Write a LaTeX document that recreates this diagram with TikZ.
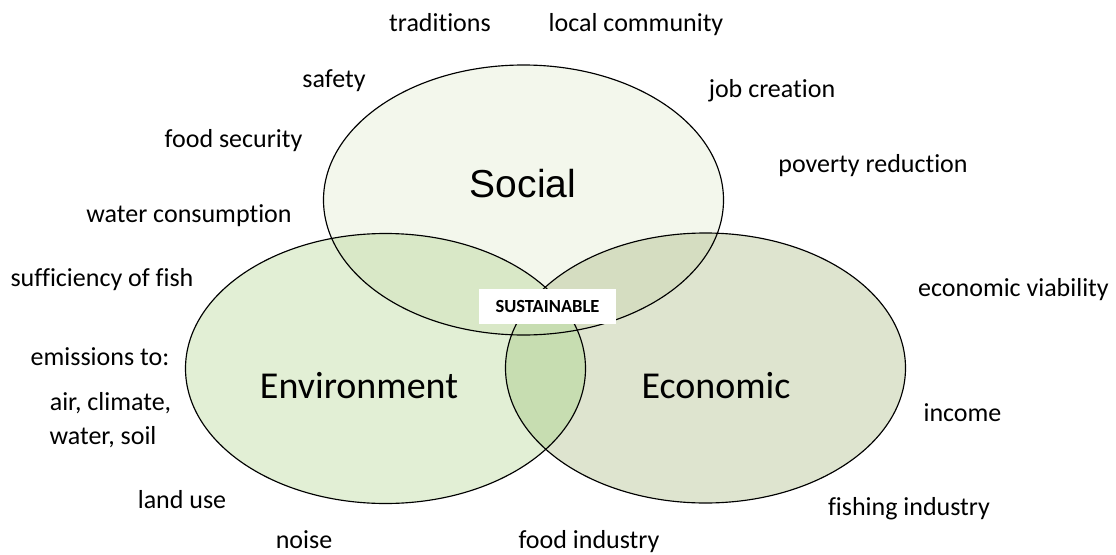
\documentclass[tikz,border=0pt]{standalone}
\usepackage{fontspec}
\setmainfont{Carlito}[Ligatures=NoCommon]
\newfontfamily\arialfont{Liberation Sans}
\definecolor{socc}{HTML}{F3F7EC}
\definecolor{envc}{HTML}{E2EFD5}
\definecolor{ecoc}{HTML}{DEE4CF}
\definecolor{sec}{HTML}{D9E8C7}
\definecolor{scc}{HTML}{D5DDC1}
\definecolor{eec}{HTML}{C7DDB1}
\begin{document}
\begin{tikzpicture}[x=1pt,y=-1pt,
  lbl/.style={anchor=base, font=\fontsize{26}{30}\selectfont, inner sep=0pt},
  big/.style={anchor=base, font=\fontsize{38}{44}\selectfont, inner sep=0pt},
  ring/.style={draw=black, line width=1.15pt}]
\useasboundingbox[fill=white] (0,0) rectangle (1116,554);
% region fills
\fill[socc] (523.5,200) ellipse [x radius=200pt, y radius=135pt];
\fill[envc] (385.5,368.5) ellipse [x radius=200pt, y radius=135pt];
\fill[ecoc] (705.5,368) ellipse [x radius=200pt, y radius=135pt];
\begin{scope}
  \clip (523.5,200) ellipse [x radius=200pt, y radius=135pt];
  \fill[sec] (385.5,368.5) ellipse [x radius=200pt, y radius=135pt];
  \fill[scc] (705.5,368) ellipse [x radius=200pt, y radius=135pt];
\end{scope}
\begin{scope}
  \clip (385.5,368.5) ellipse [x radius=200pt, y radius=135pt];
  \fill[eec] (705.5,368) ellipse [x radius=200pt, y radius=135pt];
\end{scope}
% outlines
\draw[ring] (523.5,200) ellipse [x radius=200pt, y radius=135pt];
\draw[ring] (385.5,368.5) ellipse [x radius=200pt, y radius=135pt];
\draw[ring] (705.5,368) ellipse [x radius=200pt, y radius=135pt];
% circle titles
\node[big, font=\arialfont\fontsize{39}{44}\selectfont] (social) at (523,197) {Social};
\node[big] (environment) at (359,398) {Environment};
\node[big] (economic) at (716,398) {Economic};
% centre box
\node[fill=white, minimum width=137pt, minimum height=35pt, inner sep=0pt,
      font=\bfseries\fontsize{18.5}{22}\selectfont] (sustainable) at (547.5,306.5) {SUSTAINABLE};
% surrounding labels
\node[lbl] (traditions) at (440,31) {traditions};
\node[lbl] (localcommunity) at (636,31) {local community};
\node[lbl] (safety) at (334,87) {safety};
\node[lbl] (jobcreation) at (772,97) {job creation};
\node[lbl] (foodsecurity) at (233.5,147) {food security};
\node[lbl] (povertyreduction) at (873,172) {poverty reduction};
\node[lbl] (waterconsumption) at (189,222) {water consumption};
\node[lbl] (sufficiency) at (102,286) {sufficiency of fish};
\node[lbl] (viability) at (1013.5,296) {economic viability};
\node[lbl] (emissions) at (100,365) {emissions to:};
\node[lbl] (air) at (110.5,410) {air, climate,};
\node[lbl] (water) at (103,444) {water, soil};
\node[lbl] (income) at (962.5,421) {income};
\node[lbl] (landuse) at (182,508) {land use};
\node[lbl] (fishing) at (909,515) {fishing industry};
\node[lbl] (noise) at (304,548) {noise};
\node[lbl] (foodindustry) at (589,548) {food industry};
\end{tikzpicture}
\end{document}
